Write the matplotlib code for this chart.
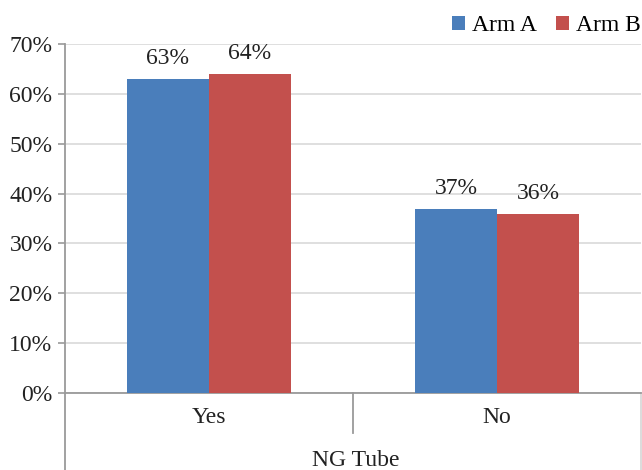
import matplotlib
matplotlib.use("Agg")
import matplotlib.pyplot as plt
import numpy as np

plt.rcParams['font.family'] = ['Liberation Serif', 'DejaVu Serif']

categories = ['Yes', 'No']
arm_a = [63, 37]
arm_b = [64, 36]
series_names = ['Arm A', 'Arm B']
axis_title = 'NG Tube'
yticks = [0, 10, 20, 30, 40, 50, 60, 70]

blue = '#4a7ebb'
red = '#c3504d'
axis_grey = '#9a9a9a'
grid_grey = '#d9d9d9'
text_col = '#222222'

W, H = 642, 470
fig = plt.figure(figsize=(W / 100, H / 100), dpi=100)
# plot area in pixels: left 65, right 641, 0% at y=393, 70% at y=44
ax = fig.add_axes([65 / W, (H - 393) / H, 576 / W, 349 / H])

x = np.arange(len(categories))
bw = 0.285
bars_a = ax.bar(x - bw / 2, arm_a, bw, color=blue, label=series_names[0], zorder=3)
bars_b = ax.bar(x + bw / 2, arm_b, bw, color=red, label=series_names[1], zorder=3)

for bars, vals in ((bars_a, arm_a), (bars_b, arm_b)):
    for b, v in zip(bars, vals):
        ax.annotate(f'{v}%', (b.get_x() + b.get_width() / 2, v),
                    xytext=(0, 7), textcoords='offset points',
                    ha='center', va='bottom', fontsize=17, color=text_col)

ax.set_xlim(-0.5, 1.5)
ax.set_ylim(0, 70)
ax.set_yticks(yticks)
ax.set_yticklabels([f'{t}%' for t in yticks], fontsize=17, color=text_col)
ax.yaxis.grid(True, color=grid_grey, linewidth=1.2, zorder=0)
ax.tick_params(axis='y', length=5, width=1.2, color=axis_grey, pad=4)
ax.set_xticks([])

for s in ('top', 'right'):
    ax.spines[s].set_visible(False)
for s in ('left', 'bottom'):
    ax.spines[s].set_color(axis_grey)
    ax.spines[s].set_linewidth(1.3)

# category table below the axis
below = 77 / 349
ax.plot([0, 0], [0, -below], transform=ax.transAxes, color=axis_grey,
        linewidth=1.3, clip_on=False)
ax.plot([1, 1], [0, -below], transform=ax.transAxes, color=grid_grey,
        linewidth=1.3, clip_on=False)
ax.plot([0.5, 0.5], [0, -40 / 349], transform=ax.transAxes, color=axis_grey,
        linewidth=1.3, clip_on=False)
for xi, c in zip(x, categories):
    ax.text(xi, -5.0, c, ha='center', va='center', fontsize=17, color=text_col)
ax.text(0.51, -13.5, axis_title, ha='center', va='center', fontsize=17,
        color=text_col)

fig.legend(handles=[bars_a, bars_b], labels=series_names, loc='upper right',
           bbox_to_anchor=(1.0 - 1 / W, 1.0 - 15 / H), ncol=2, frameon=False,
           fontsize=17, handlelength=0.55, handleheight=0.55,
           handletextpad=0.3, columnspacing=0.8, borderpad=0, borderaxespad=0)

fig.savefig('out.png', dpi=100)
